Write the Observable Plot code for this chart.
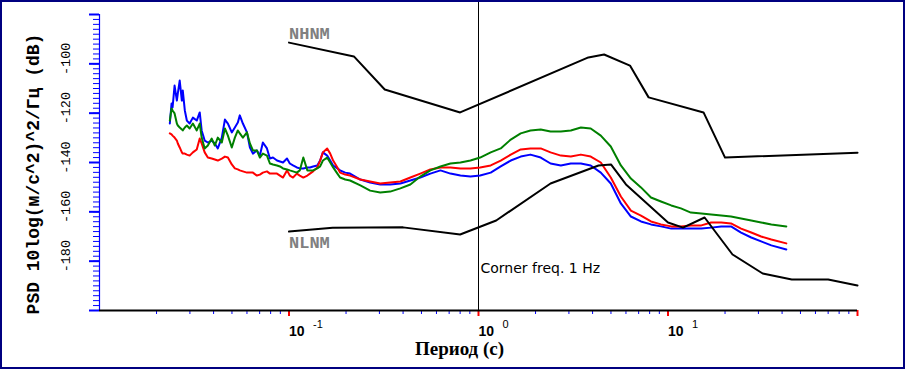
<!DOCTYPE html>
<html><head><meta charset="utf-8">
<script src="https://cdn.jsdelivr.net/npm/d3@7"></script>
<script src="https://cdn.jsdelivr.net/npm/@observablehq/plot@0.6"></script>
<style>
html,body{margin:0;padding:0;background:#fff;}
#wrap{position:relative;width:905px;height:369px;overflow:hidden;background:#fff;}
#wrap::after{content:"";position:absolute;left:0;top:0;right:0;bottom:0;border:2px solid #000080;pointer-events:none;}
svg{display:block;}
</style></head><body><div id="wrap"></div>
<script>
// Period grid (s) shared by the three measured PSD curves
const periods = [
0.0235,0.0240,0.0243,0.0249,0.0256,0.0259,0.0265,0.0272,0.0275,0.0282,
0.0289,0.0299,0.0311,0.0326,0.0338,0.0346,0.0359,0.0373,0.0391,0.0406,
0.0421,0.0442,0.0459,0.0476,0.0499,0.0518,0.0537,0.0550,0.0571,0.0600,
0.0622,0.0645,0.0677,0.0702,0.0728,0.0765,0.0793,0.0823,0.0864,0.0896,
0.0930,0.0976,0.101,0.105,0.110,0.114,0.119,0.125,0.129,0.134,
0.141,0.146,0.151,0.159,0.165,0.171,0.180,0.186,0.198,0.210,
0.238,0.268,0.303,0.342,0.387,0.437,0.493,0.557,0.630,0.711,
0.803,0.907,1.02,1.16,1.31,1.48,1.67,1.88,2.13,2.40,
2.72,3.07,3.47,3.91,4.42,4.99,5.64,6.37,7.20,8.13,
9.18,10.4,11.7,13.2,15.0,16.9,19.1,21.5,24.3,27.5,
31.0,35.1,42.1];

const blueDb = [
-124.2,-116.1,-117.7,-108.8,-114.9,-112.0,-106.8,-114.9,-110.8,-118.9,
-123.0,-124.2,-121.8,-123.0,-119.7,-127.0,-131.1,-131.9,-131.1,-132.3,
-134.3,-129.9,-122.6,-124.2,-127.8,-125.8,-123.8,-120.9,-124.2,-127.8,
-133.9,-136.4,-135.1,-137.2,-131.9,-134.3,-138.4,-138.0,-139.2,-139.6,
-140.0,-138.4,-140.4,-141.2,-142.0,-142.4,-142.4,-142.0,-142.0,-141.6,
-141.2,-139.2,-135.9,-137.2,-139.2,-141.2,-142.4,-143.2,-144.1,-144.5,
-146.9,-148.1,-148.9,-148.9,-148.5,-147.3,-146.1,-144.5,-143.2,-144.5,
-145.3,-145.7,-145.3,-144.1,-141.6,-139.2,-137.6,-136.8,-138.0,-140.4,
-141.2,-140.4,-140.4,-141.2,-144.1,-148.5,-156.6,-161.9,-163.9,-165.1,
-165.9,-166.8,-166.8,-166.8,-166.8,-166.4,-165.9,-165.9,-168.4,-170.4,
-172.0,-173.6,-175.3];

const greenDb = [
-123.0,-118.1,-118.9,-120.1,-124.2,-125.0,-125.8,-126.6,-127.0,-125.8,
-125.0,-126.2,-124.2,-127.0,-124.2,-129.9,-134.3,-133.1,-130.3,-133.1,
-129.9,-131.9,-126.2,-129.1,-133.9,-129.9,-127.0,-128.2,-129.9,-127.8,
-132.3,-135.1,-135.1,-138.0,-136.4,-137.2,-140.4,-140.8,-141.2,-141.6,
-142.4,-142.8,-143.2,-143.6,-144.1,-143.2,-138.0,-143.2,-143.2,-143.2,
-142.4,-141.6,-139.2,-138.0,-140.0,-142.0,-144.5,-146.1,-146.9,-147.3,
-149.3,-151.4,-152.2,-151.8,-150.5,-148.9,-145.7,-143.2,-141.6,-140.4,
-140.0,-139.2,-138.0,-135.9,-134.3,-130.7,-128.2,-127.0,-126.6,-127.4,
-127.4,-127.0,-125.8,-126.2,-129.1,-133.5,-141.2,-146.5,-150.1,-154.2,
-155.8,-157.4,-158.6,-160.3,-160.7,-161.1,-161.5,-161.9,-162.7,-163.5,
-164.3,-165.1,-165.9];

const redDb = [
-128.2,-128.6,-129.1,-129.9,-131.1,-132.3,-133.9,-135.9,-136.4,-136.4,
-136.8,-137.2,-135.9,-134.7,-130.3,-132.3,-135.9,-138.0,-138.4,-138.8,
-139.2,-138.4,-137.6,-138.0,-140.8,-142.4,-142.8,-143.2,-143.6,-144.1,
-144.1,-144.1,-145.3,-144.9,-144.1,-143.6,-144.5,-144.5,-144.5,-145.3,
-146.1,-143.2,-145.3,-146.1,-144.5,-145.3,-146.1,-145.3,-144.5,-143.6,
-142.0,-139.2,-135.9,-134.3,-136.4,-139.2,-142.0,-144.1,-144.9,-145.3,
-146.9,-147.7,-148.5,-148.1,-147.7,-146.1,-144.5,-142.8,-142.0,-142.0,
-142.4,-142.4,-142.0,-141.2,-139.2,-136.8,-134.7,-134.3,-134.3,-135.9,
-137.2,-137.6,-136.8,-137.6,-140.0,-146.1,-153.8,-159.5,-161.5,-163.9,
-165.1,-165.9,-165.9,-165.5,-165.5,-164.3,-164.3,-164.7,-166.8,-168.4,
-170.0,-171.2,-172.8];

// Peterson noise models
const nhnmPeriods = [0.1, 0.22, 0.32, 0.8, 3.8, 4.6, 6.3, 7.9, 15.4, 20, 100];
const nhnmDb = [-91.4, -97.0, -110.4, -119.7, -97.4, -96.2, -100.7, -113.6, -119.7, -138.0, -136.0];
const nlnmPeriods = [0.1, 0.17, 0.4, 0.8, 1.24, 2.4, 4.3, 5.0, 6.0, 10, 12, 15.6, 21.9, 31.6, 45, 70, 100];
const nlnmDb = [-168.0, -166.5, -166.3, -169.2, -163.5, -148.5, -141.2, -140.8, -148.9, -164.3, -166.4, -162.3, -177.3, -185.0, -187.4, -187.4, -189.9];

// Axes
const xDomain = [0.01, 100];
const yDomain = [-200, -80];
const xMajor = [0.1, 1, 10, 100];
const xMinor = [0.02,0.03,0.04,0.05,0.06,0.07,0.08,0.09,0.2,0.3,0.4,0.5,0.6,0.7,0.8,0.9,2,3,4,5,6,7,8,9,20,30,40,50,60,70,80,90];
const xLabelTicks = [0.1, 1, 10];
const xLabelExp = ["-1", "0", "1"];
const yMajor = [-200, -180, -160, -140, -120, -100, -80];
const yMinor = [];
for (let v = -200; v <= -80; v += 2) yMinor.push(v);
const yLabels = [-180, -160, -140, -120, -100];

const cornerPeriod = 1;
const cornerLabel = "Corner freq. 1 Hz";
const cornerLabelDb = -183;
const modelLabels = [
  {name: "NHNM", period: 0.1, db: -87.6},
  {name: "NLNM", period: 0.1, db: -172.4}
];
const yTitle = "PSD 10log(м/с^2)^2/Гц (dB)";
const xTitle = "Период (с)";

const toRows = arr => periods.map((p, i) => ({period: p, db: arr[i]}));
const modelRows = (ps, ds) => ps.map((p, i) => ({period: p, db: ds[i]}));

const mono = "'Liberation Mono', 'DejaVu Sans Mono', monospace";

const chart = Plot.plot({
  width: 905,
  height: 369,
  marginLeft: 99,
  marginRight: 48,
  marginTop: 14,
  marginBottom: 59,
  x: {type: "log", domain: xDomain},
  y: {domain: yDomain},
  style: {background: "white"},
  marks: [
    // y ticks
    Plot.axisY({ticks: yMinor, tickSize: 6, tickFormat: () => "", stroke: "#0000ff", label: null}),
    Plot.axisY({ticks: yMajor, tickSize: 10, strokeWidth: 2, tickFormat: () => "", stroke: "#0000ff", label: null}),
    Plot.ruleX([xDomain[0]], {stroke: "#0000ff", strokeWidth: 1.2}),
    // x ticks
    Plot.axisX({ticks: xMinor, tickSize: 4, tickFormat: () => "", stroke: "#0000ff", label: null}),
    Plot.axisX({ticks: xMajor, tickSize: 6, strokeWidth: 2, tickFormat: () => "", stroke: "#ff0000", label: null}),
    // corner frequency
    Plot.ruleX([cornerPeriod], {stroke: "black", strokeWidth: 1, insetTop: -14}),
    // measured PSD
    Plot.line(toRows(blueDb), {x: "period", y: "db", stroke: "#0000ff", strokeWidth: 2}),
    Plot.line(toRows(redDb), {x: "period", y: "db", stroke: "#ff0000", strokeWidth: 2}),
    Plot.line(toRows(greenDb), {x: "period", y: "db", stroke: "#008000", strokeWidth: 2}),
    // noise models
    Plot.line(modelRows(nhnmPeriods, nhnmDb), {x: "period", y: "db", stroke: "black", strokeWidth: 2}),
    Plot.line(modelRows(nlnmPeriods, nlnmDb), {x: "period", y: "db", stroke: "black", strokeWidth: 2}),
    // bottom axis line
    Plot.ruleY([yDomain[0]], {stroke: "black", strokeWidth: 2}),
    // y tick labels
    Plot.text(yLabels, {x: xDomain[0], y: d => d, text: d => String(d), rotate: -90, dx: -34, dy: -5,
      textAnchor: "middle", fontFamily: mono, fontSize: 13.5, fill: "black"}),
    // y title
    Plot.text([yTitle], {frameAnchor: "left", rotate: -90, dx: -66, dy: 11.5, textAnchor: "middle",
      fontFamily: mono, fontSize: 18, fontWeight: "bold", fill: "black"}),
    // x tick labels
    Plot.text(xLabelTicks, {x: d => d, frameAnchor: "bottom", dy: 25, text: () => "10", textAnchor: "start",
      fontFamily: "'Liberation Sans', Arial, sans-serif", fontSize: 14, fontWeight: "bold", fill: "black"}),
    Plot.text(xLabelTicks, {x: d => d, frameAnchor: "bottom", dy: 17, dx: 24, text: (d, i) => xLabelExp[i], textAnchor: "start",
      fontFamily: "'Liberation Sans', Arial, sans-serif", fontSize: 11, fill: "black"}),
    // x title
    Plot.text([xTitle], {frameAnchor: "bottom", dx: -19, dy: 44.5, textAnchor: "middle",
      fontFamily: "'Liberation Serif', 'Times New Roman', serif", fontSize: 19, fontWeight: "bold", fill: "black"}),
    // model labels
    Plot.text(modelLabels, {x: "period", y: "db", text: "name", textAnchor: "start",
      fontFamily: mono, fontSize: 17, fontWeight: "bold", fill: "#808080"}),
    // corner label
    Plot.text([cornerLabel], {x: cornerPeriod, y: cornerLabelDb, textAnchor: "start", dx: 2,
      fontFamily: "'DejaVu Sans', sans-serif", fontSize: 14, fill: "black"})
  ]
});
document.getElementById("wrap").appendChild(chart);
</script>
</body></html>
